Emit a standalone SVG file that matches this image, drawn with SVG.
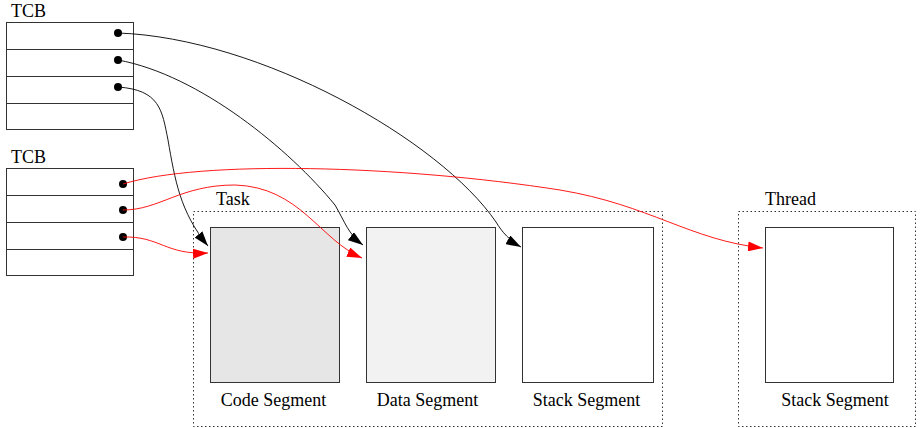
<svg xmlns="http://www.w3.org/2000/svg" width="920" height="428" viewBox="0 0 920 428">
<defs>
<style>
text{font-family:"Liberation Serif","DejaVu Serif","Times New Roman",serif;font-size:18px;fill:#000}
.tcb{fill:#fff;stroke:#333;stroke-width:1}
.row{stroke:#333;stroke-width:1}
.seg{stroke:#333;stroke-width:1}
.grp{fill:none;stroke:#333;stroke-width:1;stroke-dasharray:1.5,2.5}
.blk{fill:none;stroke:#000;stroke-width:0.9}
.red{fill:none;stroke:#f00;stroke-width:0.9}
</style>
<marker id="ab" markerWidth="16" markerHeight="10" refX="15" refY="5" orient="auto" markerUnits="userSpaceOnUse"><path d="M0,0 L15,5 L0,10 Z" fill="#000"/></marker>
<marker id="ar" markerWidth="16" markerHeight="10" refX="15" refY="5" orient="auto" markerUnits="userSpaceOnUse"><path d="M0,0 L15,5 L0,10 Z" fill="#f00"/></marker>
</defs>
<rect width="920" height="428" fill="#fff"/>
<g id="tcb1">
<text x="11" y="17">TCB</text>
<rect class="tcb" x="6.5" y="22.5" width="127" height="107"/>
<line class="row" x1="6.5" y1="49.5" x2="133.5" y2="49.5"/>
<line class="row" x1="6.5" y1="76.5" x2="133.5" y2="76.5"/>
<line class="row" x1="6.5" y1="103.5" x2="133.5" y2="103.5"/>
<circle cx="118" cy="33" r="4"/>
<circle cx="118" cy="60" r="4"/>
<circle cx="118" cy="87" r="4"/>
</g>
<g id="tcb2">
<text x="11" y="163">TCB</text>
<rect class="tcb" x="6.5" y="168.5" width="127" height="107"/>
<line class="row" x1="6.5" y1="195.5" x2="133.5" y2="195.5"/>
<line class="row" x1="6.5" y1="222.5" x2="133.5" y2="222.5"/>
<line class="row" x1="6.5" y1="249.5" x2="133.5" y2="249.5"/>
<circle cx="123" cy="184" r="4"/>
<circle cx="123" cy="210" r="4"/>
<circle cx="123" cy="237" r="4"/>
</g>
<g id="task">
<text x="216" y="205">Task</text>
<rect class="grp" x="193.5" y="211.5" width="469" height="215"/>
<g id="code">
<rect class="seg" x="210.5" y="227.5" width="129" height="155" fill="#e6e6e6"/>
<text x="273.5" y="406" text-anchor="middle">Code Segment</text>
</g>
<g id="data">
<rect class="seg" x="366.5" y="227.5" width="129" height="155" fill="#f2f2f2"/>
<text x="427.5" y="406" text-anchor="middle">Data Segment</text>
</g>
<g id="stack">
<rect class="seg" x="522.5" y="227.5" width="131" height="155" fill="#fff"/>
<text x="586.5" y="406" text-anchor="middle">Stack Segment</text>
</g>
</g>
<g id="thread">
<text x="765" y="205">Thread</text>
<rect class="grp" x="738.5" y="211.5" width="177" height="215"/>
<g id="tstack">
<rect class="seg" x="765.5" y="227.5" width="128" height="155" fill="#fff"/>
<text x="835" y="406" text-anchor="middle">Stack Segment</text>
</g>
</g>
<g id="connectors">
<path class="blk" marker-end="url(#ab)" d="M118,33 C260,38 440,140 496,222 C502,232 510,241 521,247"/>
<path class="blk" marker-end="url(#ab)" d="M118,60 C200,75 290,150 335,205 C345,222 348,234 363,245"/>
<path class="blk" marker-end="url(#ab)" d="M118,87 C160,90 162,110 168,140 C175,180 180,212 208,246"/>
<path class="red" marker-end="url(#ar)" d="M123,184 C200,160 400,165 560,190 C650,205 690,240 763,248"/>
<path class="red" marker-end="url(#ar)" d="M123,210 C160,210 180,185 235,185 C300,187 320,240 362,258"/>
<path class="red" marker-end="url(#ar)" d="M123,237 C160,236 165,255 208,253"/>
</g>
</svg>
